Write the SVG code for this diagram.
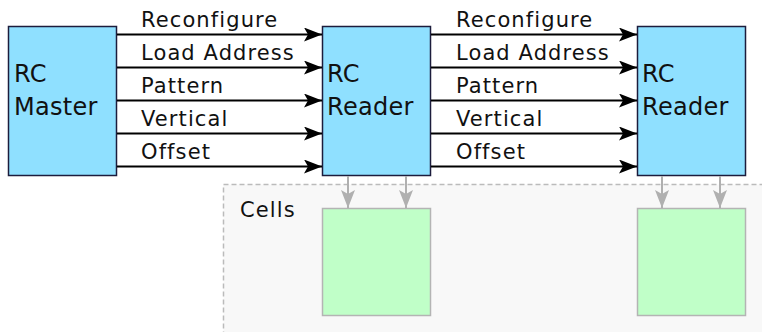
<svg xmlns="http://www.w3.org/2000/svg" width="762" height="332" viewBox="0 0 762 332">
  <defs>
    <style>
      text { font-family: "DejaVu Sans", "Liberation Sans", sans-serif; fill: #111; }
      .sig { font-size: 21px; letter-spacing: 1.1px; }
      .name { font-size: 24px; letter-spacing: 0.3px; }
      .block { fill: #8fe0ff; stroke: #1c1c3c; stroke-width: 1.5; }
      .cell { fill: #c0ffc8; stroke: #b4b4b4; stroke-width: 1.5; }
      .bus { stroke: #000; stroke-width: 2; fill: none; marker-end: url(#head); }
      .feed { stroke: #b0b0b0; stroke-width: 2; fill: none; marker-end: url(#grayhead); }
    </style>
    <marker id="head" viewBox="0 0 18 14" markerWidth="18" markerHeight="14" refX="18" refY="7" orient="auto" markerUnits="userSpaceOnUse">
      <path d="M0,0 L18,7 L0,14 L4,7 z" fill="#000"/>
    </marker>
    <marker id="grayhead" viewBox="0 0 18 14" markerWidth="18" markerHeight="14" refX="18" refY="7" orient="auto" markerUnits="userSpaceOnUse">
      <path d="M0,0 L18,7 L0,14 L4,7 z" fill="#b0b0b0"/>
    </marker>
  </defs>

  <rect width="762" height="332" fill="#fff"/>

  <!-- cell area -->
  <g id="cells">
    <rect x="223.5" y="184.5" width="600" height="200" fill="#f8f8f8" stroke="#bbb" stroke-width="1.5" stroke-dasharray="5 3"/>
    <text class="sig" x="240" y="217">Cells</text>
  </g>

  <g id="cell1"><rect class="cell" x="322.5" y="208.5" width="108" height="107"/></g>
  <g id="cell2"><rect class="cell" x="637.5" y="208.5" width="108" height="107"/></g>

  <g id="master">
    <rect class="block" x="8.5" y="26.5" width="108" height="149"/>
    <text class="name" x="14" y="82">RC</text>
    <text class="name" x="14" y="115">Master</text>
  </g>

  <g id="reader1">
    <rect class="block" x="322.5" y="26.5" width="108" height="149"/>
    <text class="name" x="327" y="82">RC</text>
    <text class="name" x="327" y="115">Reader</text>
  </g>

  <g id="reader2">
    <rect class="block" x="637.5" y="26.5" width="108" height="149"/>
    <text class="name" x="642" y="82">RC</text>
    <text class="name" x="642" y="115">Reader</text>
  </g>

  <g id="connectors">
    <line class="bus" x1="117" y1="34.5" x2="322" y2="34.5"/>
    <line class="bus" x1="117" y1="67.5" x2="322" y2="67.5"/>
    <line class="bus" x1="117" y1="100.5" x2="322" y2="100.5"/>
    <line class="bus" x1="117" y1="133.5" x2="322" y2="133.5"/>
    <line class="bus" x1="117" y1="166.5" x2="322" y2="166.5"/>
    <text class="sig" x="141" y="27">Reconfigure</text>
    <text class="sig" x="141" y="60">Load Address</text>
    <text class="sig" x="141" y="93">Pattern</text>
    <text class="sig" x="141" y="126">Vertical</text>
    <text class="sig" x="141" y="159">Offset</text>

    <line class="bus" x1="431" y1="34.5" x2="637" y2="34.5"/>
    <line class="bus" x1="431" y1="67.5" x2="637" y2="67.5"/>
    <line class="bus" x1="431" y1="100.5" x2="637" y2="100.5"/>
    <line class="bus" x1="431" y1="133.5" x2="637" y2="133.5"/>
    <line class="bus" x1="431" y1="166.5" x2="637" y2="166.5"/>
    <text class="sig" x="456" y="27">Reconfigure</text>
    <text class="sig" x="456" y="60">Load Address</text>
    <text class="sig" x="456" y="93">Pattern</text>
    <text class="sig" x="456" y="126">Vertical</text>
    <text class="sig" x="456" y="159">Offset</text>

    <line class="feed" x1="348" y1="176" x2="348" y2="208"/>
    <line class="feed" x1="406" y1="176" x2="406" y2="208"/>
    <line class="feed" x1="662" y1="176" x2="662" y2="208"/>
    <line class="feed" x1="720" y1="176" x2="720" y2="208"/>
  </g>
</svg>
